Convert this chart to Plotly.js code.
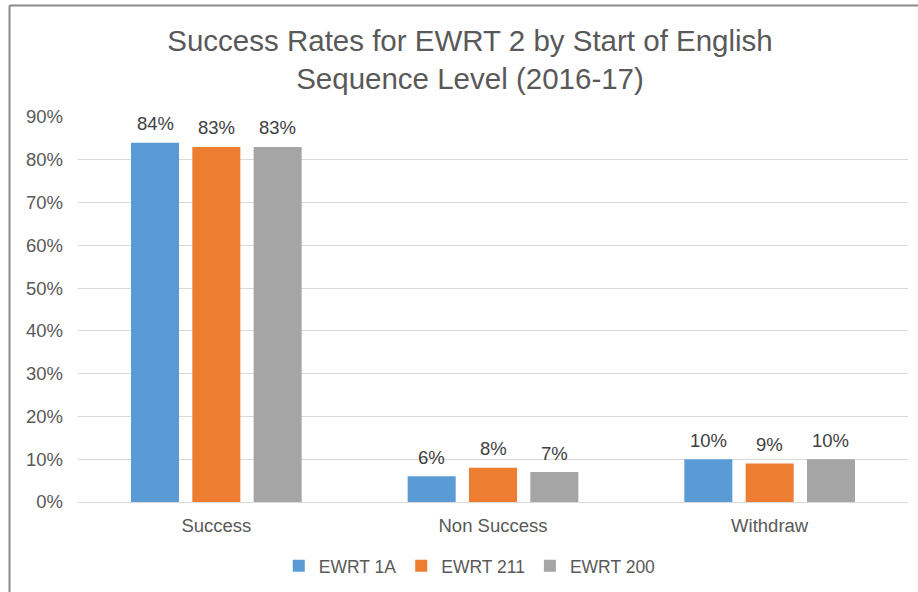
<!DOCTYPE html>
<html>
<head>
<meta charset="utf-8">
<script src="https://cdn.plot.ly/plotly-3.0.1.min.js"></script>
<style>
  html, body { margin: 0; padding: 0; background: #ffffff; }
  #chart { width: 918px; height: 592px; }
</style>
</head>
<body>
<div id="chart"></div>
<script>
const categories = ["Success", "Non Success", "Withdraw"];
const seriesNames = ["EWRT 1A", "EWRT 211", "EWRT 200"];
const ewrt1A = [0.84, 0.06, 0.10];
const ewrt211 = [0.83, 0.08, 0.09];
const ewrt200 = [0.83, 0.07, 0.10];
const colors = ["#5B9BD5", "#ED7D31", "#A5A5A5"];
const yTickVals = [0, 0.1, 0.2, 0.3, 0.4, 0.5, 0.6, 0.7, 0.8, 0.9];
const yTickText = ["0%", "10%", "20%", "30%", "40%", "50%", "60%", "70%", "80%", "90%"];

const seriesValues = [ewrt1A, ewrt211, ewrt200];
const font = "Liberation Sans, Arial, sans-serif";

// layout geometry
const W = 918, H = 592;
const M = { l: 78, r: 10, t: 117, b: 90, autoexpand: false };
const bargap = 0.335;
const plotW = W - M.l - M.r;
const slotPx = plotW / categories.length * (1 - bargap) / seriesValues.length;

const traces = seriesValues.map((vals, i) => ({
  type: "bar",
  name: seriesNames[i],
  x: categories,
  y: vals,
  marker: { color: colors[i] },
  hoverinfo: "x+y+name"
}));

const annotations = [];
seriesValues.forEach((vals, i) => {
  vals.forEach((v, j) => {
    annotations.push({
      x: categories[j],
      y: v,
      xref: "x",
      yref: "y",
      text: Math.round(v * 100) + "%",
      showarrow: false,
      xanchor: "center",
      yanchor: "middle",
      xshift: (i - 1) * slotPx,
      yshift: 19,
      font: { family: font, size: 18.5, color: "#404040" }
    });
  });
});

const layout = {
  width: W,
  height: H,
  paper_bgcolor: "#ffffff",
  plot_bgcolor: "#ffffff",
  margin: M,
  font: { family: font, size: 18, color: "#595959" },
  title: {
    text: "Success Rates for EWRT 2 by Start of English<br>Sequence Level (2016-17)",
    font: { family: font, size: 29.5, color: "#595959" },
    x: 0.512,
    xanchor: "center",
    y: 1 - 51 / H,
    yanchor: "middle"
  },
  barmode: "group",
  bargap: bargap,
  bargroupgap: 0.217,
  xaxis: {
    type: "category",
    showgrid: false,
    showline: false,
    zeroline: false,
    ticks: "",
    ticklabelstandoff: 10,
    tickfont: { family: font, size: 18.5, color: "#595959" }
  },
  yaxis: {
    range: [0, 0.9],
    tickvals: yTickVals,
    ticktext: yTickText,
    showgrid: true,
    gridcolor: "#D9D9D9",
    gridwidth: 1,
    zeroline: true,
    zerolinecolor: "#D9D9D9",
    zerolinewidth: 1,
    showline: false,
    ticks: "",
    ticklen: 0,
    ticklabelstandoff: 14,
    tickfont: { family: font, size: 18.5, color: "#595959" }
  },
  showlegend: true,
  legend: {
    orientation: "h",
    x: 0.472,
    xanchor: "center",
    y: -0.166,
    yanchor: "middle",
    font: { family: font, size: 17.5, color: "#595959" },
    itemwidth: 30,
    traceorder: "normal"
  },
  annotations: annotations,
  shapes: [
    {
      type: "line", xref: "paper", yref: "paper",
      x0: -0.0825, x1: 1.05, y0: 1.2896, y1: 1.2896,
      line: { color: "#898989", width: 2 }
    },
    {
      type: "line", xref: "paper", yref: "paper",
      x0: -0.0825, x1: -0.0825, y0: -0.3, y1: 1.2896,
      line: { color: "#898989", width: 2 }
    }
  ]
};

Plotly.newPlot("chart", traces, layout, { displayModeBar: false, staticPlot: true });
</script>
</body>
</html>
